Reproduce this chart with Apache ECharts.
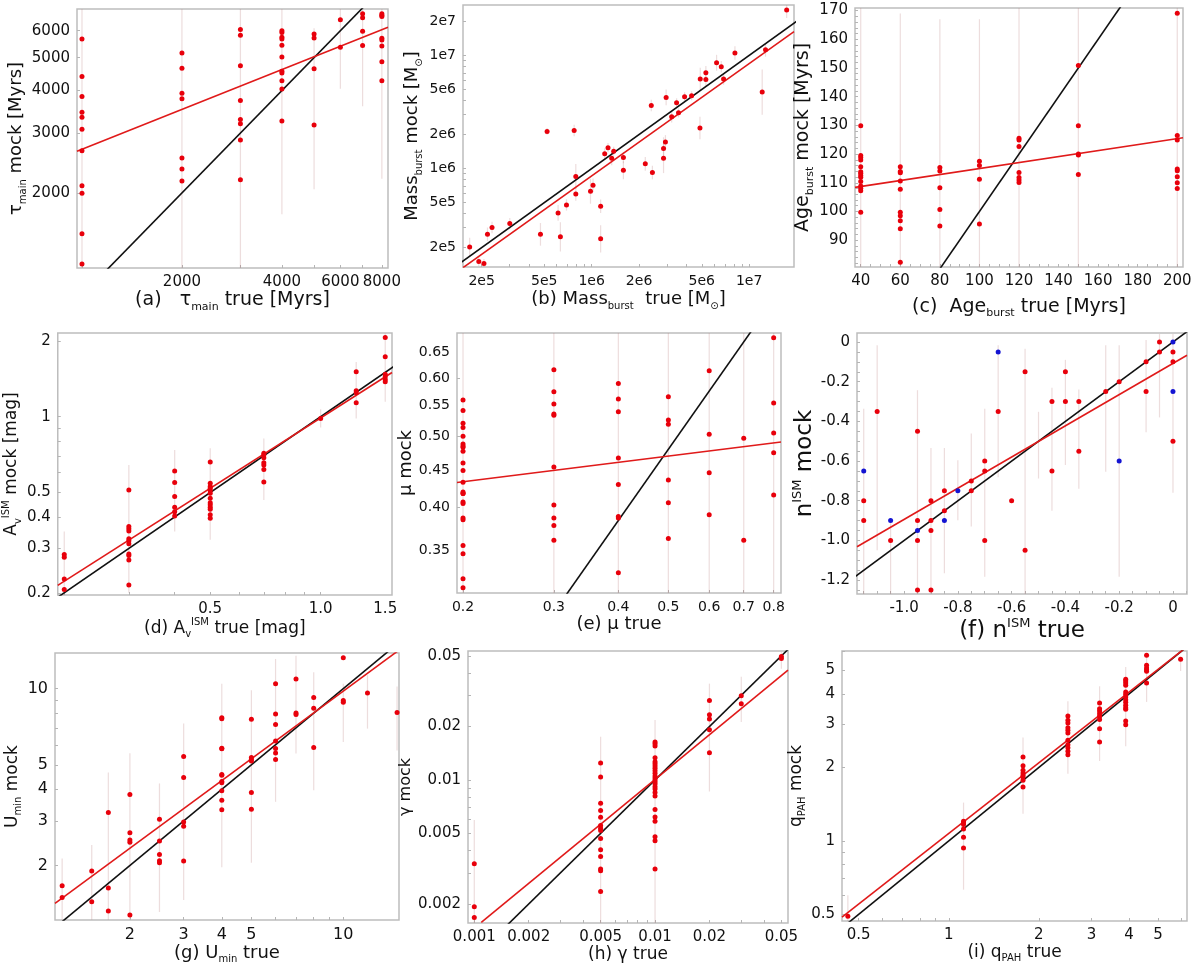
<!DOCTYPE html>
<html>
<head>
<meta charset="utf-8">
<script src="https://cdn.jsdelivr.net/npm/echarts@6/dist/echarts.min.js"></script>
<style>
html, body { margin: 0; padding: 0; background: #fff; }
#main { width: 1200px; height: 967px; }
</style>
</head>
<body>
<div id="main"></div>
<script>
// ---- (a) tau_main ----
var tauCols = [1000, 2000, 3000, 4000, 5000, 6000, 7000, 8000];
var tauMock = [
  [5675, 4397, 3840, 3452, 3338, 3077, 2663, 2101, 1996, 1518, 1237],
  [5162, 4650, 3927, 3787, 2535, 2353, 2168],
  [6045, 5815, 4736, 3737, 3286, 3197, 2863, 2188],
  [6003, 5924, 5737, 5675, 5433, 5023, 4557, 4508, 4277, 4045, 3258],
  [5870, 5715, 4641, 3170],
  [6466, 5360],
  [6734, 6554, 5977, 5424],
  [6734, 6658, 6607, 5697, 5636, 5408, 4866, 4277]
];
var tauErr = [[1000, 1200, 6950], [2000, 1200, 6950], [3000, 1200, 6950], [4000, 1730, 6950],
  [5000, 2050, 6100], [6000, 4050, 6950], [7000, 3600, 6950], [8000, 2200, 6950]];
var tauFit = [[966, 2651], [8348, 6140]];
var tauOne = [[900, 900], [9000, 9000]];
var tauXTicks = ['2000', '4000', '6000', '8000'];
var tauYTicks = ['2000', '3000', '4000', '5000', '6000'];

// ---- (b) Mass_burst ----
var massTrue = [1.68e5, 1.92e5, 2.07e5, 2.18e5, 2.33e5, 3.02e5, 4.73e5, 5.21e5, 6.12e5, 6.33e5, 6.92e5, 7.74e5,
  7.93e5, 7.93e5, 9.83e5, 1.02e6, 1.14e6, 1.14e6, 1.21e6, 1.27e6, 1.34e6, 1.38e6, 1.59e6, 1.59e6,
  2.19e6, 2.39e6, 2.43e6, 2.86e6, 2.86e6, 2.94e6, 2.97e6, 3.22e6, 3.46e6, 3.56e6, 3.89e6, 4.31e6,
  4.87e6, 4.89e6, 5.31e6, 5.31e6, 6.21e6, 6.65e6, 6.88e6, 8.12e6, 1.21e7, 1.27e7, 1.73e7];
var massMock = [2.03e5, 1.51e5, 1.45e5, 2.62e5, 3.01e5, 3.26e5, 2.62e5, 2.13e6, 4.05e5, 2.49e5, 4.77e5, 2.17e6,
  8.5e5, 5.97e5, 6.3e5, 7.12e5, 4.64e5, 2.39e5, 1.35e6, 1.53e6, 1.23e6, 1.42e6, 1.25e6, 9.67e5,
  1.1e6, 3.61e6, 9.22e5, 1.5e6, 1.23e6, 1.72e6, 4.25e6, 2.87e6, 3.81e6, 3.11e6, 4.31e6, 4.4e6,
  2.28e6, 6.18e6, 7.02e6, 6.13e6, 8.61e6, 7.94e6, 6.18e6, 1.05e7, 4.74e6, 1.12e7, 2.52e7];
var massErrDex = [0.08, 0.04, 0.04, 0.06, 0.05, 0.05, 0.1, 0.03, 0.07, 0.13, 0.05, 0.05,
  0.11, 0.06, 0.11, 0.06, 0.06, 0.12, 0.05, 0.04, 0.06, 0.04, 0.05, 0.08,
  0.06, 0.05, 0.06, 0.1, 0.13, 0.06, 0.07, 0.05, 0.04, 0.04, 0.04, 0.04,
  0.1, 0.1, 0.06, 0.06, 0.07, 0.05, 0.05, 0.06, 0.2, 0.06, 0.07];
var massFit = [[1.524e5, 1.33e5], [1.926e7, 1.62e7]];
var massOne = [[1e5, 1e5], [3e7, 3e7]];
var massXTicks = ['2e5', '5e5', '1e6', '2e6', '5e6', '1e7'];
var massYTicks = ['2e5', '5e5', '1e6', '2e6', '5e6', '1e7', '2e7'];

// ---- (c) Age_burst ----
var ageCols = [40, 60, 80, 100, 120, 150, 200];
var ageMock = [
  [129.9, 119.5, 118.8, 117.9, 115.6, 113.8, 113.3, 112.5, 111.9, 110.4, 108.9, 108.1, 107.2, 99.7],
  [115.6, 113.9, 113.5, 110.6, 107.7, 99.7, 98.5, 96.8, 94.0, 82.3],
  [115.3, 114.1, 108.3, 100.7, 94.9],
  [117.5, 116.0, 111.2, 95.6],
  [125.5, 124.9, 122.6, 113.6, 111.8, 111.0, 110.1],
  [150.9, 129.9, 120.0, 119.7, 112.9],
  [169.1, 126.5, 124.9, 114.8, 114.2, 112.1, 110.0, 108.0]
];
var ageErr = [[40, 80, 171], [60, 80, 169], [80, 80, 167], [100, 80, 167], [120, 80, 171], [150, 80, 171], [200, 80, 171]];
var ageFit = [[37.1, 108.4], [202.9, 125.7]];
var ageOne = [[30, 30], [210, 210]];
var ageXTicks = ['40', '60', '80', '100', '120', '140', '160', '180', '200'];
var ageYTicks = ['90', '100', '110', '120', '130', '140', '150', '160', '170'];

// ---- (d) Av_ISM ----
var avCols = [0.2, 0.3, 0.4, 0.5, 0.7, 1.0, 1.25, 1.5];
var avMock = [
  [0.284, 0.277, 0.227, 0.206],
  [0.512, 0.367, 0.359, 0.352, 0.328, 0.322, 0.313, 0.285, 0.281, 0.270, 0.215],
  [0.609, 0.548, 0.482, 0.437, 0.420, 0.404],
  [0.661, 0.544, 0.528, 0.520, 0.509, 0.497, 0.475, 0.456, 0.447, 0.437, 0.429, 0.408, 0.395],
  [0.716, 0.705, 0.688, 0.657, 0.643, 0.618, 0.551],
  [0.985],
  [1.508, 1.268, 1.245, 1.136],
  [2.063, 1.729, 1.476, 1.440, 1.406, 1.376]
];
var avErr = [[0.2, 0.196, 0.35], [0.3, 0.2, 0.643], [0.4, 0.35, 0.738], [0.5, 0.325, 0.749],
  [0.7, 0.467, 0.82], [1.0, 0.907, 1.07], [1.25, 0.985, 1.65], [1.5, 1.147, 2.14]];
var avFit = [[0.192, 0.214], [1.565, 1.498]];
var avOne = [[0.1, 0.1], [2, 2]];
var avXTicks = ['0.5', '1.0', '1.5'];
var avYTicks = ['0.2', '0.3', '0.4', '0.5', '1', '2'];

// ---- (e) mu ----
var muCols = [0.2, 0.3, 0.4, 0.5, 0.6, 0.7, 0.8];
var muMock = [
  [0.560, 0.542, 0.521, 0.514, 0.500, 0.488, 0.485, 0.483, 0.477, 0.460, 0.449, 0.433, 0.420, 0.418, 0.418,
   0.407, 0.405, 0.387, 0.385, 0.355, 0.346, 0.320, 0.311],
  [0.616, 0.575, 0.553, 0.536, 0.534, 0.454, 0.403, 0.387, 0.378, 0.361],
  [0.590, 0.562, 0.540, 0.467, 0.430, 0.389, 0.387, 0.326],
  [0.566, 0.526, 0.519, 0.436, 0.406, 0.363],
  [0.614, 0.503, 0.446, 0.391],
  [0.497, 0.361],
  [0.681, 0.555, 0.505, 0.475, 0.416]
];
var muErr = [[0.2, 0.306, 0.691], [0.3, 0.306, 0.691], [0.4, 0.306, 0.691], [0.5, 0.306, 0.691],
  [0.6, 0.306, 0.691], [0.7, 0.306, 0.691], [0.8, 0.306, 0.691]];
var muFit = [[0.1947, 0.4326], [0.8266, 0.491]];
var muOne = [[0.2, 0.192], [0.85, 0.816]];
var muXTicks = ['0.2', '0.3', '0.4', '0.5', '0.6', '0.7', '0.8'];
var muYTicks = ['0.35', '0.40', '0.45', '0.50', '0.55', '0.60', '0.65'];

// ---- (f) n_ISM ----
var nTrueRed = [-1.1, -1.15, -1.15, -1.05, -0.95, -0.95, -0.95, -0.95, -0.9, -0.9, -0.9, -0.9, -0.85, -0.85,
  -0.75, -0.75, -0.7, -0.7, -0.7, -0.65, -0.6, -0.55, -0.55, -0.45, -0.45, -0.4, -0.4, -0.35, -0.35,
  -0.25, -0.2, -0.1, -0.1, -0.05, -0.05, 0, 0, 0];
var nMockRed = [-0.35, -0.8, -0.9, -1.0, -0.45, -0.9, -1.0, -1.25, -0.8, -0.9, -0.95, -1.25, -0.75, -0.85,
  -0.7, -0.75, -0.6, -0.65, -1.0, -0.35, -0.8, -0.15, -1.05, -0.3, -0.65, -0.15, -0.3, -0.3, -0.55,
  -0.25, -0.2, -0.1, -0.25, 0, -0.05, -0.05, -0.1, -0.5];
var nTrueBlue = [-1.15, -1.05, -0.95, -0.85, -0.8, -0.65, -0.2, 0, 0];
var nMockBlue = [-0.65, -0.9, -0.95, -0.9, -0.75, -0.05, -0.6, 0, -0.25];
var nErr = [[-1.15, -1.27, -0.336], [-1.1, -1.049, -0.017], [-1.05, -1.27, -0.889], [-0.95, -1.27, -0.243],
  [-0.9, -1.27, -0.534], [-0.85, -1.166, -0.534], [-0.8, -0.898, -0.596], [-0.75, -0.93, -0.461],
  [-0.7, -1.183, -0.336], [-0.65, -0.682, -0.017], [-0.55, -1.27, -0.034], [-0.5, -0.688, -0.352],
  [-0.45, -0.85, -0.23], [-0.4, -0.62, -0.09], [-0.35, -0.74, -0.24], [-0.25, -0.654, -0.017],
  [-0.2, -1.183, -0.017], [-0.1, -0.455, 0.01], [-0.05, -0.38, 0.04], [0, -0.76, 0.04]];
var nFit = [[-1.175, -1.032], [0.0522, -0.067]];
var nOne = [[-1.3, -1.3], [0.1, 0.1]];
var nXTicks = ['-1.0', '-0.8', '-0.6', '-0.4', '-0.2', '0'];
var nYTicks = ['-1.2', '-1.0', '-0.8', '-0.6', '-0.4', '-0.2', '0'];

// ---- (g) U_min ----
var uCols = [1.2, 1.5, 1.7, 2, 2.5, 3, 4, 5, 6, 7, 8, 10, 12, 15];
var uMock = [
  [1.663, 1.496],
  [1.901, 1.438],
  [3.24, 1.629, 1.321],
  [3.816, 2.694, 2.52, 2.474, 1.274],
  [3.05, 2.497, 2.212, 2.088, 2.05],
  [5.39, 4.454, 2.968, 2.861, 2.082],
  [7.68, 7.61, 5.815, 5.78, 4.576, 4.55, 4.295, 4.243, 3.945, 3.624, 3.319],
  [7.57, 5.34, 5.245, 5.18, 3.886, 3.339],
  [10.46, 7.94, 7.21, 6.21, 5.80, 5.57, 5.245],
  [10.92, 8.02, 7.9],
  [9.22, 8.36, 5.85],
  [13.26, 8.97, 8.83],
  [9.61],
  [8.04]
];
var uErr = [[1.2, 1.22, 2.13], [1.5, 1.22, 2.41], [1.7, 1.22, 4.66], [2, 1.22, 5.55], [2.5, 1.31, 4.22],
  [3, 1.46, 7.28], [4, 1.97, 10.46], [5, 2.05, 9.85], [6, 3.57, 13.1], [7, 5.54, 13.5], [8, 3.97, 11.6],
  [10, 6.16, 10.46], [12, 6.95, 11.3], [15, 5.7, 10.2]];
var uFit = [[1.137, 1.417], [15.22, 14.2]];
var uOne = [[1, 1], [16, 16]];
var uXTicks = ['2', '3', '4', '5', '10'];
var uYTicks = ['2', '3', '4', '5', '10'];

// ---- (h) gamma ----
var gCols = [0.001, 0.005, 0.01, 0.02, 0.03, 0.05];
var gMock = [
  [0.00337, 0.00193, 0.00168],
  [0.01246, 0.01039, 0.00739, 0.00672, 0.00617, 0.00554, 0.00535, 0.00519, 0.00468, 0.00404, 0.00371,
   0.00315, 0.00308, 0.00235],
  [0.01636, 0.0160, 0.01553, 0.01335, 0.01268, 0.01236, 0.01199, 0.01163, 0.01128, 0.0109, 0.01053,
   0.01026, 0.0100, 0.00974, 0.0095, 0.00917, 0.0089, 0.00849, 0.00813, 0.00681, 0.00619, 0.00586,
   0.00478, 0.00454, 0.00315],
  [0.02804, 0.0233, 0.02203, 0.01919, 0.01424],
  [0.02979, 0.02686],
  [0.0497, 0.0483]
];
var gErr = [[0.001, 0.00156, 0.00594], [0.005, 0.00156, 0.0175], [0.01, 0.00156, 0.0218],
  [0.02, 0.00861, 0.0349], [0.03, 0.0212, 0.0381], [0.05, 0.0424, 0.0527]];
var gFit = [[0.001093, 0.001578], [0.05441, 0.04153]];
var gOne = [[0.0005, 0.0005], [0.06, 0.06]];
var gXTicks = ['0.001', '0.002', '0.005', '0.01', '0.02', '0.05'];
var gYTicks = ['0.002', '0.005', '0.01', '0.02', '0.05'];

// ---- (i) q_PAH ----
var qCols = [0.46, 1.12, 1.77, 2.5, 3.19, 3.9, 4.58, 5.95];
var qMock = [
  [0.491],
  [1.2025, 1.184, 1.166, 1.119, 1.034, 0.935],
  [2.207, 2.033, 1.946, 1.897, 1.857, 1.827, 1.771, 1.663],
  [3.25, 3.12, 3.043, 2.911, 2.839, 2.768, 2.583, 2.48, 2.41, 2.328, 2.256],
  [3.673, 3.482, 3.406, 3.322, 3.24, 3.14, 2.884, 2.543],
  [4.594, 4.522, 4.437, 4.34, 4.076, 3.987, 3.888, 3.792, 3.698, 3.594, 3.516, 3.461, 3.099, 2.994],
  [5.762, 5.242, 5.112, 5.03, 4.954, 4.437],
  [5.548]
];
var qErr = [[0.46, 0.4695, 0.598], [1.12, 0.631, 1.435], [1.77, 1.293, 2.65], [2.5, 1.886, 3.73],
  [3.19, 2.125, 4.30], [3.9, 2.44, 5.16], [4.58, 3.71, 5.85], [5.95, 4.97, 5.67]];
var qFit = [[0.4397, 0.4875], [6.25, 6.25]];
var qOne = [[0.4, 0.4], [7, 7]];
var qXTicks = ['0.5', '1', '2', '3', '4', '5'];
var qYTicks = ['0.5', '1', '2', '3', '4', '5'];

var FONT = 'DejaVu Sans';
var RED = '#e8000b';

function flatten(cols, mocks) {
  var out = [];
  cols.forEach(function (x, i) {
    mocks[i].forEach(function (y) { out.push([x, y]); });
  });
  return out;
}
function zip(a, b) {
  return a.map(function (v, k) { return [v, b[k]]; });
}

var massErr = massTrue.map(function (m, k) {
  var f = Math.pow(10, massErrDex[k]);
  return [m, massMock[k] / f, massMock[k] * f];
});

// box = [left, top, width, height], gap = [x name, y name], ns = [x name size, y name size]
var panels = [
  { box: [77, 9, 311, 259], log: true, xr: [966, 8348], yr: [1203, 6950], xl: tauXTicks, yl: tauYTicks,
    xname: '(a)   τ{sub|main} true [Myrs]', yname: 'τ{sub|main} mock [Myrs]', ns: [19, 18], gap: [18, 45], tick: 15,
    pts: flatten(tauCols, tauMock), err: tauErr, fit: tauFit, one: tauOne },
  { box: [463, 5, 331, 262], log: true, xr: [1.524e5, 1.926e7], yr: [1.348e5, 2.79e7], xl: massXTicks, yl: massYTicks,
    xname: '(b) Mass{sub|burst}  true [M{sub|⊙}]', yname: 'Mass{sub|burst} mock [M{sub|⊙}]', ns: [18, 18], gap: [21, 39], tick: 14,
    pts: zip(massTrue, massMock), err: massErr, fit: massFit, one: massOne },
  { box: [855, 8, 328, 259], log: false, xr: [37.1, 202.9], yr: [80.65, 170.9], xl: ageXTicks, yl: ageYTicks,
    xname: '(c)  Age{sub|burst} true [Myrs]', yname: 'Age{sub|burst} mock [Myrs]', ns: [19, 19], gap: [28, 36], tick: 15,
    minor: [5, 2], pts: flatten(ageCols, ageMock), err: ageErr, fit: ageFit, one: ageOne },
  { box: [56, 333, 336, 262], log: true, xr: [0.192, 1.565], yr: [0.196, 2.15], xl: avXTicks, yl: avYTicks,
    xname: '(d) A{sub|v}{sup|ISM} true [mag]', yname: 'A{sub|v}{sup|ISM} mock [mag]', ns: [17, 17], gap: [14, 30], tick: 15,
    pts: flatten(avCols, avMock), err: avErr, fit: avFit, one: avOne },
  { box: [457, 333, 324, 260], log: true, xr: [0.1947, 0.8266], yr: [0.306, 0.691], xl: muXTicks, yl: muYTicks,
    xname: '(e) μ true', yname: 'μ mock', ns: [18, 18], gap: [21, 37], tick: 14,
    pts: flatten(muCols, muMock), err: muErr, fit: muFit, one: muOne },
  { box: [857, 333, 330, 261], log: false, xr: [-1.175, 0.0522], yr: [-1.270, 0.0453], xl: nXTicks, yl: nYTicks,
    xname: '(f) n{sup|ISM} true', yname: 'n{sup|ISM} mock', ns: [23, 23], gap: [19, 32], tick: 15,
    minor: [0.05, 0.05], pts: zip(nTrueRed, nMockRed), blue: zip(nTrueBlue, nMockBlue), err: nErr, fit: nFit, one: nOne },
  { box: [55, 653, 344, 267], log: true, xr: [1.137, 15.22], yr: [1.218, 13.83], xl: uXTicks, yl: uYTicks,
    xname: '(g) U{sub|min} true', yname: 'U{sub|min} mock', ns: [18, 17], gap: [18, 23], tick: 16,
    pts: flatten(uCols, uMock), err: uErr, fit: uFit, one: uOne },
  { box: [468, 651, 320, 272], log: true, xr: [0.000923, 0.05441], yr: [0.001563, 0.0533], xl: gXTicks, yl: gYTicks,
    xname: '(h) γ true', yname: 'γ mock', ns: [17, 16], gap: [22, 41], tick: 15,
    pts: flatten(gCols, gMock), err: gErr, fit: gFit, one: gOne },
  { box: [842, 651, 345, 270], log: true, xr: [0.4397, 6.25], yr: [0.4695, 6.0], xl: qXTicks, yl: qYTicks,
    xname: '(i) q{sub|PAH} true', yname: 'q{sub|PAH} mock', ns: [17, 17], gap: [18, 20], tick: 15,
    pts: flatten(qCols, qMock), err: qErr, fit: qFit, one: qOne }
];

function tickPositions(p, dim, f) {
  var r = dim === 'x' ? p.xr : p.yr;
  var out = [];
  if (p.log) {
    for (var d = Math.floor(Math.log10(r[0])); d <= Math.ceil(Math.log10(r[1])); d++) {
      for (var m = 1; m < 10; m++) {
        var v = m * Math.pow(10, d);
        if (v >= r[0] && v <= r[1]) out.push(f(v));
      }
    }
  } else {
    var step = p.minor[dim === 'x' ? 0 : 1];
    for (var t = Math.ceil(r[0] / step) * step; t <= r[1]; t += step) out.push(t);
  }
  return out;
}

function makeAxis(p, i, dim, f) {
  var isX = dim === 'x';
  var r = isX ? p.xr : p.yr;
  var labs = isX ? p.xl : p.yl;
  var vals = labs.map(function (s) { return f(Number(s)); });
  var ns = isX ? p.ns[0] : p.ns[1];
  var small = Math.round(ns * 0.58);
  var shift = Math.round(ns * 0.7);
  return {
    type: 'value', gridIndex: i, min: f(r[0]), max: f(r[1]),
    position: isX ? 'bottom' : 'left',
    name: isX ? p.xname : p.yname,
    nameLocation: 'middle', nameGap: isX ? p.gap[0] : p.gap[1], nameRotate: isX ? 0 : 90,
    nameTextStyle: {
      fontFamily: FONT, fontSize: ns, color: '#111',
      rich: {
        sub: { fontFamily: FONT, fontSize: small, color: '#111', padding: [shift, 0, 0, 0] },
        sup: { fontFamily: FONT, fontSize: small, color: '#111', padding: [0, 0, shift, 0] }
      }
    },
    axisLine: { show: false, onZero: false },
    splitLine: { show: false },
    axisTick: { show: true, inside: true, length: 3, customValues: tickPositions(p, dim, f),
      lineStyle: { color: '#b5b5b5', width: 1 } },
    axisLabel: {
      customValues: vals, fontFamily: FONT, fontSize: p.tick, color: '#111', margin: 7,
      formatter: function (v) {
        for (var k = 0; k < vals.length; k++) {
          if (Math.abs(vals[k] - v) < 1e-9) return labs[k];
        }
        return '';
      }
    }
  };
}

function errBar(params, api) {
  var lo = api.coord([api.value(0), api.value(1)]);
  var hi = api.coord([api.value(0), api.value(2)]);
  var cs = params.coordSys;
  var shape = echarts.graphic.clipRectByRect(
    { x: lo[0] - 0.6, y: hi[1], width: 1.2, height: lo[1] - hi[1] },
    { x: cs.x, y: cs.y, width: cs.width, height: cs.height });
  return shape && { type: 'rect', shape: shape, style: { fill: 'rgba(185,120,120,0.25)' } };
}

var option = { animation: false, backgroundColor: '#fff', grid: [], xAxis: [], yAxis: [], series: [] };

panels.forEach(function (p, i) {
  var f = p.log ? Math.log10 : function (v) { return v; };
  var tr = function (pt) { return [f(pt[0]), f(pt[1])]; };
  option.grid.push({ left: p.box[0], top: p.box[1], width: p.box[2], height: p.box[3],
    show: true, borderColor: '#bdbdbd', borderWidth: 1.5 });
  option.xAxis.push(makeAxis(p, i, 'x', f));
  option.yAxis.push(makeAxis(p, i, 'y', f));

  option.series.push({
    type: 'custom', xAxisIndex: i, yAxisIndex: i, silent: true, z: 1,
    encode: { x: 0, y: [1, 2] },
    data: p.err.map(function (e) { return [f(e[0]), f(e[1]), f(e[2])]; }),
    renderItem: errBar
  });
  option.series.push({
    type: 'line', xAxisIndex: i, yAxisIndex: i, silent: true, z: 2, symbol: 'none', clip: true,
    lineStyle: { color: '#111', width: 1.6 }, data: p.one.map(tr)
  });
  option.series.push({
    type: 'line', xAxisIndex: i, yAxisIndex: i, silent: true, z: 2, symbol: 'none', clip: true,
    lineStyle: { color: '#e01a1a', width: 1.6 }, data: p.fit.map(tr)
  });
  option.series.push({
    type: 'scatter', xAxisIndex: i, yAxisIndex: i, silent: true, z: 3, symbolSize: 5,
    itemStyle: { color: RED, opacity: 1 }, data: p.pts.map(tr)
  });
  if (p.blue) {
    option.series.push({
      type: 'scatter', xAxisIndex: i, yAxisIndex: i, silent: true, z: 3, symbolSize: 5,
      itemStyle: { color: '#1414d2', opacity: 1 }, data: p.blue.map(tr)
    });
  }
});

var myChart = echarts.init(document.getElementById('main'));
myChart.setOption(option);
</script>
</body>
</html>
